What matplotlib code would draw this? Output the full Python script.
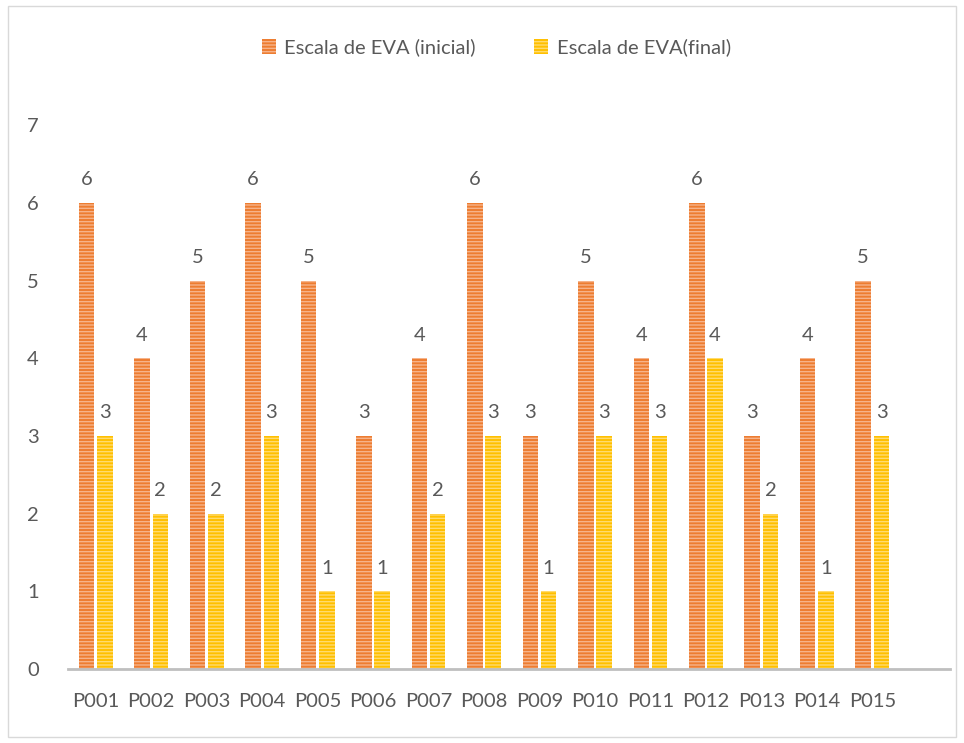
import matplotlib
matplotlib.use('Agg')
import matplotlib.pyplot as plt
import matplotlib.patches as mpatches
import numpy as np

plt.rcParams['font.family'] = ['Lato', 'DejaVu Sans']
plt.rcParams['hatch.linewidth'] = 1.0

categories = ['P001', 'P002', 'P003', 'P004', 'P005', 'P006', 'P007', 'P008',
              'P009', 'P010', 'P011', 'P012', 'P013', 'P014', 'P015']
eva_inicial = [6, 4, 5, 6, 5, 3, 4, 6, 3, 5, 4, 6, 3, 4, 5]
eva_final = [3, 2, 2, 3, 1, 1, 2, 3, 1, 3, 3, 4, 2, 1, 3]
labels = ['Escala de EVA (inicial)', 'Escala de EVA(final)']

orange, orange_l = '#ED7D31', '#F6B38A'
yellow, yellow_l = '#FFC000', '#FFDB6E'
text_col = '#595959'
fs = 14.5

fig = plt.figure(figsize=(9.64, 7.43), dpi=100)
fig.patches.append(mpatches.Rectangle((0.008, 0.008), 0.984, 0.984, transform=fig.transFigure,
                                      fill=False, edgecolor='#D9D9D9', linewidth=1))
ax = fig.add_axes([0.0705, 0.0996, 0.915, 0.732])

x = np.arange(len(categories))
w = 0.28
b1 = ax.bar(x - 0.165, eva_inicial, w, color=orange, edgecolor=orange_l, linewidth=0, hatch='-----')
b2 = ax.bar(x + 0.165, eva_final, w, color=yellow, edgecolor=yellow_l, linewidth=0, hatch='-----')

for bars, vals in ((b1, eva_inicial), (b2, eva_final)):
    for r, v in zip(bars, vals):
        ax.annotate(str(v), (r.get_x() + r.get_width() / 2, v), xytext=(0, 16.5),
                    textcoords='offset points', ha='center', va='center',
                    fontsize=fs, color=text_col)

ax.set_xlim(-0.5, 15.4)
ax.set_ylim(0, 7)
ax.set_yticks(range(0, 8))
ax.set_xticks(x)
ax.set_xticklabels(categories)
ax.tick_params(axis='both', length=0, labelsize=fs, labelcolor=text_col)
ax.tick_params(axis='x', pad=17)
ax.tick_params(axis='y', pad=21)
for s in ('top', 'right', 'left'):
    ax.spines[s].set_visible(False)
ax.spines['bottom'].set_color('#BFBFBF')
ax.spines['bottom'].set_linewidth(2)

handles = [mpatches.Patch(facecolor=orange, edgecolor=orange_l, linewidth=0, hatch='-----'),
           mpatches.Patch(facecolor=yellow, edgecolor=yellow_l, linewidth=0, hatch='-----')]
leg = fig.legend(handles, labels, loc='center', bbox_to_anchor=(0.515, 0.936), ncol=2, frameon=False,
                 fontsize=fs, handlelength=0.7, handleheight=0.7, handletextpad=0.4, columnspacing=2.9)
for t in leg.get_texts():
    t.set_color(text_col)

fig.savefig('out.png', dpi=100)
